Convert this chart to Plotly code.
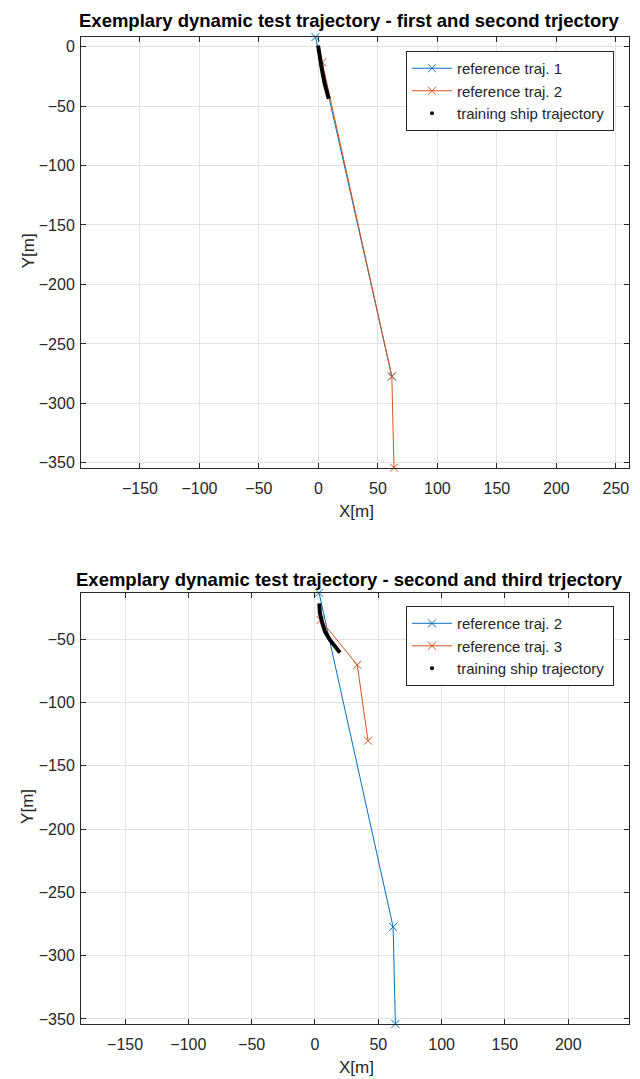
import plotly.graph_objects as go

# ---- data ----
traj1_x = [-2.5, 61.7]
traj1_y = [8.0, -277.3]
traj2_x = [3.2, 61.7, 63.5]
traj2_y = [-13.3, -277.3, -354.0]
traj3_x = [4.5, 33.4, 41.9]
traj3_y = [-34.8, -70.3, -130.2]
ship_top_x = [-0.3, 1.1, 3.1, 5.3, 7.3, 8.7]
ship_top_y = [0.9, -8.9, -20.2, -31.3, -39.7, -43.9]
ship_bot_x = [3.4, 3.9, 5.8, 7.9, 11.8, 15.8, 19.7]
ship_bot_y = [-21.6, -29.5, -37.4, -44.0, -50.6, -55.8, -60.6]
top_xticks = [-150, -100, -50, 0, 50, 100, 150, 200, 250]
top_yticks = [0, -50, -100, -150, -200, -250, -300, -350]
bot_xticks = [-150, -100, -50, 0, 50, 100, 150, 200]
bot_yticks = [-50, -100, -150, -200, -250, -300, -350]
top_xrange = [-199.5, 261.0]
top_yrange = [-354.0, 8.0]
bot_xrange = [-184.8, 248.0]
bot_yrange = [-354.0, -13.3]

BLUE = "#0072BD"
ORANGE = "#D95319"

# the page body has an 8px margin; target positions below are screenshot pixels
OX, OY = 8, 8
W, H = 640 - OX, 1079 - OY
PL, PR = 81, 629             # plot area left/right (screen px)
top_px = (36.5, 467.5)       # top plot area top/bottom (screen px)
bot_px = (592.7, 1024.3)
ML, MR = PL - OX, 640 - PR
MT = top_px[0] - OY
MB = 1079 - bot_px[1]
PW = W - ML - MR
PH = H - MT - MB

def py(pix):
    return (H - MB - (pix - OY)) / PH

def px(pix):
    return (pix - OX - ML) / PW

def dom(p):
    return [py(p[1]), py(p[0])]

fig = go.Figure()

def ref_trace(x, y, color, name, xa, ya, legend):
    return go.Scatter(x=x, y=y, mode="lines+markers", name=name,
                      line=dict(color=color, width=1),
                      marker=dict(symbol="x-thin", size=8,
                                  line=dict(color=color, width=1), color=color),
                      xaxis=xa, yaxis=ya, legend=legend, cliponaxis=False)

def ship_traces(x, y, xa, ya, legend):
    return [
        go.Scatter(x=x, y=y, mode="lines", line=dict(color="black", width=4),
                   showlegend=False, xaxis=xa, yaxis=ya, hoverinfo="skip"),
        go.Scatter(x=[None], y=[None], mode="markers",
                   name="training ship trajectory\u00a0",
                   marker=dict(color="black", size=4, symbol="circle"),
                   xaxis=xa, yaxis=ya, legend=legend),
    ]

fig.add_trace(ref_trace(traj1_x, traj1_y, BLUE, "reference traj. 1", "x", "y", "legend"))
fig.add_trace(ref_trace(traj2_x, traj2_y, ORANGE, "reference traj. 2", "x", "y", "legend"))
for t in ship_traces(ship_top_x, ship_top_y, "x", "y", "legend"):
    fig.add_trace(t)

fig.add_trace(ref_trace(traj2_x, traj2_y, BLUE, "reference traj. 2", "x2", "y2", "legend2"))
fig.add_trace(ref_trace(traj3_x, traj3_y, ORANGE, "reference traj. 3", "x2", "y2", "legend2"))
for t in ship_traces(ship_bot_x, ship_bot_y, "x2", "y2", "legend2"):
    fig.add_trace(t)

FONT = "Liberation Sans, Arial, Helvetica, sans-serif"
TXT = "#262626"
axis_common = dict(showgrid=True, gridcolor="#e3e3e3", gridwidth=1,
                   showline=True, linecolor=TXT, linewidth=1, mirror="ticks",
                   ticks="inside", ticklen=5, tickcolor=TXT, automargin=False,
                   zeroline=False, tickfont=dict(size=16, color=TXT))

legend_common = dict(x=px(614), xanchor="right", yanchor="top",
                     bgcolor="white", bordercolor=TXT, borderwidth=1,
                     font=dict(size=15, color=TXT), itemwidth=40, tracegroupgap=0)

fig.update_layout(
    width=W, height=H,
    margin=dict(l=ML, r=MR, t=MT, b=MB, autoexpand=False),
    paper_bgcolor="white", plot_bgcolor="white",
    font=dict(family=FONT, color=TXT),
    xaxis=dict(domain=[0, 1], anchor="y", range=top_xrange, tickvals=top_xticks,
               ticklabelstandoff=6, **axis_common),
    yaxis=dict(domain=dom(top_px), anchor="x", range=top_yrange, tickvals=top_yticks,
               ticklabelstandoff=2, **axis_common),
    xaxis2=dict(domain=[0, 1], anchor="y2", range=bot_xrange, tickvals=bot_xticks,
                ticklabelstandoff=6, **axis_common),
    yaxis2=dict(domain=dom(bot_px), anchor="x2", range=bot_yrange, tickvals=bot_yticks,
                ticklabelstandoff=2, **axis_common),
    legend=dict(y=py(50.5), **legend_common),
    legend2=dict(y=py(606), **legend_common),
)

def label(text, x_pix, y_pix, size, angle=0, color=TXT):
    fig.add_annotation(text=text, x=px(x_pix), xref="paper", y=py(y_pix), yref="paper",
                       showarrow=False, textangle=angle, font=dict(size=size, color=color),
                       xanchor="center", yanchor="middle")

label("<b>Exemplary dynamic test trajectory - first and second trjectory</b>", 349, 20, 18.5, color="black")
label("<b>Exemplary dynamic test trajectory - second and third trjectory</b>", 349, 579, 18.5, color="black")
label("X[m]", 356, 511.5, 17)
label("X[m]", 356, 1068, 17)
label("Y[m]", 28, 250, 17, angle=-90)
label("Y[m]", 28, 806, 17, angle=-90)

fig.write_html("out.html")
